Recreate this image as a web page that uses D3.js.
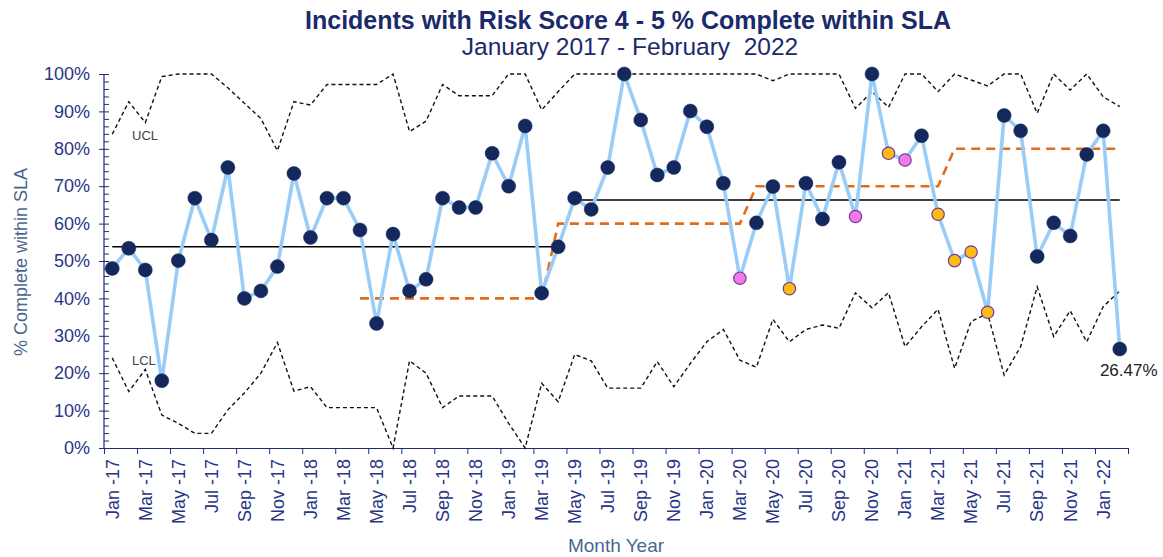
<!DOCTYPE html>
<html>
<head>
<meta charset="utf-8">
<script src="https://cdn.jsdelivr.net/npm/d3@7"></script>
<style>
  body { margin: 0; background: #fff; }
  svg { display: block; font-family: "Liberation Sans", Arial, sans-serif; }
</style>
</head>
<body>
<svg id="chart" width="1163" height="557"></svg>
<script>
// month categories (Jan-17 .. Feb-22)
const months = [
  "Jan -17","Feb -17","Mar -17","Apr -17","May -17","Jun -17","Jul -17","Aug -17","Sep -17","Oct -17","Nov -17","Dec -17",
  "Jan -18","Feb -18","Mar -18","Apr -18","May -18","Jun -18","Jul -18","Aug -18","Sep -18","Oct -18","Nov -18","Dec -18",
  "Jan -19","Feb -19","Mar -19","Apr -19","May -19","Jun -19","Jul -19","Aug -19","Sep -19","Oct -19","Nov -19","Dec -19",
  "Jan -20","Feb -20","Mar -20","Apr -20","May -20","Jun -20","Jul -20","Aug -20","Sep -20","Oct -20","Nov -20","Dec -20",
  "Jan -21","Feb -21","Mar -21","Apr -21","May -21","Jun -21","Jul -21","Aug -21","Sep -21","Oct -21","Nov -21","Dec -21",
  "Jan -22","Feb -22"
];

// % complete within SLA
const pct = [
  48.0, 53.4, 47.6, 18.0, 50.1, 66.8, 55.6, 75.0, 40.0, 42.0, 48.5, 73.4,
  56.3, 66.8, 66.8, 58.3, 33.3, 57.2, 42.0, 45.1, 66.8, 64.3, 64.3, 78.8,
  70.0, 86.1, 41.4, 53.8, 66.8, 63.8, 75.0, 100, 87.7, 73.0, 75.0, 90.1,
  85.9, 70.8, 45.4, 60.2, 69.9, 42.6, 70.8, 61.2, 76.4, 61.9, 100, 78.8,
  77.0, 83.5, 62.5, 50.1, 52.4, 36.3, 88.9, 84.8, 51.2, 60.2, 56.7, 78.5,
  84.8, 26.47
];

// n = normal, p = pink flag, y = amber flag
const flags = [
  "n","n","n","n","n","n","n","n","n","n","n","n",
  "n","n","n","n","n","n","n","n","n","n","n","n",
  "n","n","n","n","n","n","n","n","n","n","n","n",
  "n","n","p","n","n","y","n","n","n","p","n","y",
  "p","n","y","y","y","y","n","n","n","n","n","n",
  "n","n"
];

const ucl = [
  83.9, 92.6, 87.0, 99.3, 100, 100, 100, 96.3, 92.2, 88.1, 79.5, 92.6,
  91.7, 97.2, 97.2, 97.2, 97.2, 100, 84.6, 87.4, 97.2, 94.2, 94.2, 94.2,
  100, 100, 90.4, 95.3, 100, 100, 100, 100, 100, 100, 100, 100,
  100, 100, 100, 100, 98.2, 100, 100, 100, 100, 90.8, 95.3, 91.1,
  100, 100, 95.3, 100, 98.4, 96.8, 100, 100, 89.5, 100, 95.7, 100,
  93.9, 91.3
];

const lcl = [
  24.1, 15.1, 21.0, 8.8, 6.6, 3.9, 3.9, 10.2, 14.7, 20.0, 28.2, 15.2,
  16.4, 10.8, 10.8, 10.8, 10.8, 0, 23.3, 20.0, 10.8, 13.9, 13.9, 13.9,
  6.6, 0, 17.3, 12.4, 25.0, 23.3, 16.0, 16.0, 16.0, 23.1, 16.4, 22.6,
  28.4, 31.7, 23.5, 21.6, 34.4, 28.4, 31.7, 32.9, 32.0, 41.5, 37.5, 41.5,
  27.1, 32.4, 37.1, 21.3, 33.8, 36.0, 19.5, 27.1, 43.1, 29.8, 36.7, 28.4,
  37.8, 42.0
];

// centre line (two process phases)
const centre = months.map((m, i) => i < 28 ? 53.8 : 66.3);

// SLA target by financial year, none before Apr-18
const target = [
  null, null, null, null, null, null, null, null, null, null, null, null,
  null, null, null, 40, 40, 40, 40, 40, 40, 40, 40, 40,
  40, 40, 40, 60, 60, 60, 60, 60, 60, 60, 60, 60,
  60, 60, 60, 70, 70, 70, 70, 70, 70, 70, 70, 70,
  70, 70, 70, 80, 80, 80, 80, 80, 80, 80, 80, 80,
  80, 80
];

const yMajor = [0, 10, 20, 30, 40, 50, 60, 70, 80, 90, 100];
const yMinor = d3.range(0, 101, 2);

const svg = d3.select("#chart");
const plotL = 104, plotR = 1128, plotT = 74, plotB = 448;
const navy = "#1f2a78";

const xIdx = d3.scaleLinear().domain([0, months.length]).range([plotL, plotR]);
const xBand = d3.scaleBand().domain(months).range([plotL, plotR]);
const xc = i => xBand(months[i]) + xBand.bandwidth() / 2;
const y = d3.scaleLinear().domain([0, 100]).range([plotB, plotT]);

// titles
svg.append("text").attr("x", 628).attr("y", 29).attr("text-anchor", "middle")
  .attr("font-size", 25).attr("font-weight", "bold").attr("fill", "#1b2a6b")
  .text("Incidents with Risk Score 4 - 5 % Complete within SLA");
svg.append("text").attr("x", 630).attr("y", 55).attr("text-anchor", "middle")
  .attr("font-size", 24.5).attr("fill", "#1b2a6b")
  .attr("xml:space", "preserve")
  .text("January 2017 - February  2022");

// y axis
const yAxis = svg.append("g").attr("transform", `translate(${plotL},0)`)
  .call(d3.axisLeft(y).tickValues(yMajor).tickSize(5).tickPadding(9).tickFormat(d => d + "%"));
svg.append("g").attr("transform", `translate(${plotL},0)`)
  .call(d3.axisRight(y).tickValues(yMinor).tickSize(5).tickFormat("").tickSizeOuter(0));
svg.selectAll(".domain").remove();
svg.append("line").attr("x1", plotL).attr("x2", plotL).attr("y1", plotT).attr("y2", plotB)
  .attr("stroke", navy).attr("stroke-width", 1.2);
yAxis.selectAll("text").attr("font-size", 18).attr("fill", "#2a3585")
  .attr("font-family", "Liberation Sans, Arial, sans-serif");
svg.selectAll(".tick line").attr("stroke", navy);

// x axis: ticks on category boundaries every 2 months
const xTicks = svg.append("g").attr("transform", `translate(0,${plotB})`)
  .call(d3.axisBottom(xIdx).tickValues(d3.range(0, months.length + 1, 2)).tickSize(6).tickFormat("").tickSizeOuter(0));
xTicks.select(".domain").attr("stroke", navy).attr("stroke-width", 1.2);
xTicks.selectAll(".tick line").attr("stroke", navy);

const xLabels = svg.append("g").attr("transform", `translate(0,${plotB})`)
  .call(d3.axisBottom(xBand).tickValues(months.filter((m, i) => i % 2 === 0)).tickSize(0).tickPadding(0));
xLabels.select(".domain").remove();
xLabels.selectAll("text")
  .attr("font-size", 18).attr("fill", "#2a3585")
  .attr("font-family", "Liberation Sans, Arial, sans-serif")
  .attr("text-anchor", "end").attr("dy", "0.35em")
  .attr("transform", "translate(0,11) rotate(-90)")
  .attr("y", 0).attr("x", 0);

// axis titles
svg.append("text").attr("transform", "translate(27,262) rotate(-90)").attr("text-anchor", "middle")
  .attr("font-size", 18).attr("fill", "#4a6690").text("% Complete within SLA");
svg.append("text").attr("x", 616).attr("y", 552).attr("text-anchor", "middle")
  .attr("font-size", 19).attr("fill", "#4a6690").text("Month Year");

const line = d3.line().defined(d => d != null).x((d, i) => xc(i)).y(d => y(d));

// control limits
[ucl, lcl].forEach(arr => {
  svg.append("path").datum(arr).attr("d", line).attr("fill", "none")
    .attr("stroke", "#111").attr("stroke-width", 1.4).attr("stroke-dasharray", "4,3");
});
svg.append("text").attr("x", 132).attr("y", 140).attr("font-size", 13).attr("fill", "#444").text("UCL");
svg.append("text").attr("x", 132).attr("y", 365).attr("font-size", 13).attr("fill", "#444").text("LCL");

// target
svg.append("path").datum(target).attr("d", line).attr("fill", "none")
  .attr("stroke", "#e06c1c").attr("stroke-width", 2.6).attr("stroke-dasharray", "9,6");

// centre line
svg.append("path").datum(centre).attr("d", line).attr("fill", "none")
  .attr("stroke", "#000").attr("stroke-width", 1.6);

// data
svg.append("path").datum(pct).attr("d", line).attr("fill", "none")
  .attr("stroke", "#99cdf8").attr("stroke-width", 3.6).attr("stroke-linejoin", "round");

const fillFor = { n: "#14285e", p: "#f07ae8", y: "#fbbd12" };
svg.append("g").selectAll("circle").data(pct).enter().append("circle")
  .attr("cx", (d, i) => xc(i)).attr("cy", d => y(d))
  .attr("r", (d, i) => flags[i] === "n" ? 7 : 6.2)
  .attr("fill", (d, i) => fillFor[flags[i]])
  .attr("stroke", (d, i) => flags[i] === "n" ? "#14285e" : "#7a3a9a")
  .attr("stroke-width", (d, i) => flags[i] === "n" ? 0.5 : 1.2);

// last value label
const last = pct.length - 1;
svg.append("text").attr("x", xc(last) + 9).attr("y", y(pct[last]) + 27).attr("text-anchor", "middle")
  .attr("font-size", 17).attr("fill", "#222").text(pct[last].toFixed(2) + "%");
</script>
</body>
</html>
